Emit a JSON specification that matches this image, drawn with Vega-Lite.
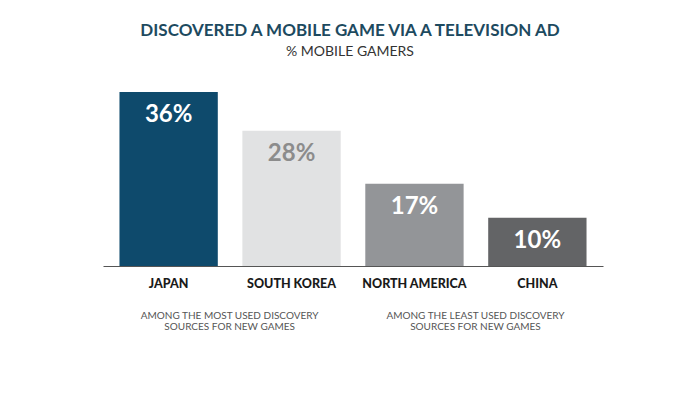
{
  "$schema": "https://vega.github.io/schema/vega-lite/v6.json",
  "width": 700,
  "height": 196,
  "autosize": "none",
  "padding": {"top": 70, "left": 0, "right": 0, "bottom": 128},
  "background": "white",
  "title": {
    "text": "DISCOVERED A MOBILE GAME VIA A TELEVISION AD",
    "subtitle": "% MOBILE GAMERS",
    "anchor": "middle",
    "font": "Lato",
    "fontSize": 17,
    "fontWeight": "bold",
    "color": "#1d4a5f",
    "subtitleFont": "Lato",
    "subtitleFontSize": 14,
    "subtitleColor": "#333333",
    "subtitlePadding": 5,
    "offset": 10
  },
  "config": {"view": {"stroke": null}},
  "datasets": {
    "bars": [
      {"region": "JAPAN", "pct": 36, "label": "36%"},
      {"region": "SOUTH KOREA", "pct": 28, "label": "28%"},
      {"region": "NORTH AMERICA", "pct": 17, "label": "17%"},
      {"region": "CHINA", "pct": 10, "label": "10%"}
    ],
    "notes": [
      {"region": "JAPAN", "note": ["AMONG THE MOST USED DISCOVERY", "SOURCES FOR NEW GAMES"]},
      {"region": "NORTH AMERICA", "note": ["AMONG THE LEAST USED DISCOVERY", "SOURCES FOR NEW GAMES"]}
    ]
  },
  "layer": [
    {
      "data": {"name": "bars"},
      "mark": {"type": "bar"},
      "encoding": {
        "x": {
          "field": "region", "type": "nominal", "sort": null,
          "scale": {"range": [103, 603], "paddingInner": 0.2, "paddingOuter": 0.134},
          "axis": {
            "title": null, "ticks": false, "domainColor": "#555555", "domainWidth": 1,
            "labelAngle": 0, "labelFont": "Lato", "labelFontWeight": 900,
            "labelFontSize": 12.5, "labelColor": "#1a1a1a", "labelPadding": 11
          }
        },
        "y": {
          "field": "pct", "type": "quantitative",
          "scale": {"domain": [0, 36], "range": [196, 22], "nice": false},
          "axis": null
        },
        "color": {
          "field": "region", "type": "nominal", "legend": null,
          "scale": {
            "domain": ["JAPAN", "SOUTH KOREA", "NORTH AMERICA", "CHINA"],
            "range": ["#0e4a6c", "#e1e2e3", "#939598", "#636466"]
          }
        }
      }
    },
    {
      "data": {"name": "bars"},
      "mark": {"type": "text", "font": "Lato", "fontWeight": "bold", "fontSize": 24, "baseline": "middle", "dy": 23},
      "encoding": {
        "x": {"field": "region", "type": "nominal", "sort": null},
        "y": {"field": "pct", "type": "quantitative"},
        "color": {
          "field": "region", "type": "nominal", "legend": null,
          "scale": {
            "domain": ["JAPAN", "SOUTH KOREA", "NORTH AMERICA", "CHINA"],
            "range": ["#ffffff", "#8c8c8c", "#ffffff", "#ffffff"]
          }
        },
        "text": {"field": "label"}
      }
    },
    {
      "data": {"name": "notes"},
      "mark": {"type": "text", "font": "Lato", "fontSize": 10, "color": "#555555", "baseline": "middle", "dx": 61, "dy": 50, "lineHeight": 11},
      "encoding": {
        "x": {"field": "region", "type": "nominal", "sort": null},
        "y": {"datum": 0, "type": "quantitative"},
        "text": {"field": "note"}
      }
    }
  ],
  "resolve": {"scale": {"color": "independent"}}
}
